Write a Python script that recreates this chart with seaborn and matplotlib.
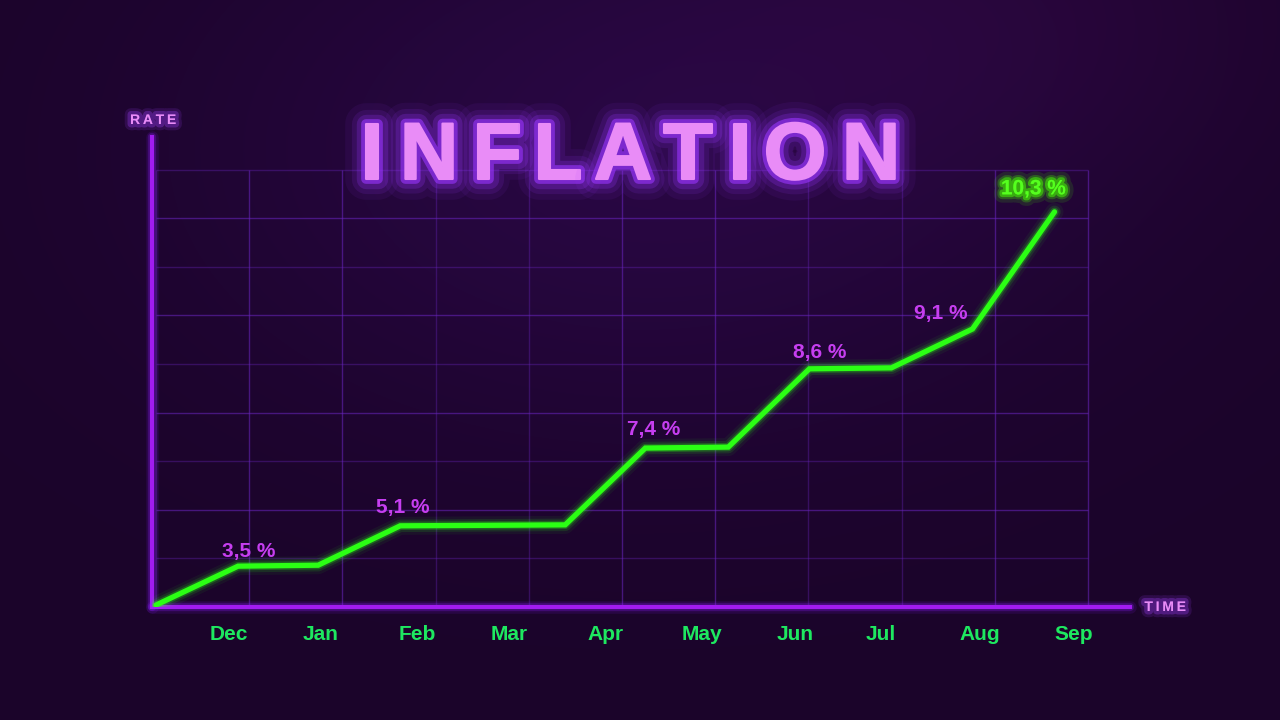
import matplotlib
matplotlib.use('Agg')
import numpy as np
import pandas as pd
import matplotlib.pyplot as plt
import matplotlib.patheffects as pe
import seaborn as sns

# chart values (x = grid columns along time axis, y = grid rows of height)
time_pos = [0.0, 0.88, 1.74, 2.62, 4.39, 5.25, 6.14, 7.01, 7.89, 8.76, 9.64]
level = [0.04, 0.84, 0.86, 1.67, 1.69, 3.27, 3.29, 4.90, 4.92, 5.72, 8.13]
months = ['Dec', 'Jan', 'Feb', 'Mar', 'Apr', 'May', 'Jun', 'Jul', 'Aug', 'Sep']
month_pos = [0.78, 1.77, 2.80, 3.79, 4.82, 5.86, 6.86, 7.78, 8.84, 9.85]
rate_labels = ['3,5 %', '5,1 %', '7,4 %', '8,6 %', '9,1 %', '10,3 %']
rate_idx = [1, 3, 5, 7, 9, 10]
rate_offset = [(11, 15), (3, 18), (8, 19), (10, 16), (-32, 15), (-21, 23)]

df = pd.DataFrame({'time': time_pos, 'level': level})

sns.set_style('dark')
plt.rcParams['font.family'] = ['Liberation Sans', 'DejaVu Sans']

GREEN = '#2bff14'
PURPLE = '#a11cf0'
PINK = '#e98cf7'


def glow(color, widths=(14, 9, 5), alphas=(0.08, 0.15, 0.3), inner=None):
    fx = [pe.Stroke(linewidth=w, foreground=color, alpha=a, joinstyle='round', capstyle='round')
          for w, a in zip(widths, alphas)]
    if inner is not None:
        fx.append(pe.Stroke(linewidth=inner[1], foreground=inner[0], joinstyle='round', capstyle='round'))
    return fx + [pe.Normal()]


fig = plt.figure(figsize=(12.8, 7.2), dpi=100)
fig.set_facecolor('#1a042a')

# background glow
bg = fig.add_axes([0, 0, 1, 1], zorder=0)
yy, xx = np.mgrid[0:720, 0:1280]
g = np.exp(-(((xx - 640) / 450.0) ** 2 + ((yy - 150) / 280.0) ** 2))
g2 = np.exp(-(((xx - 1000) / 300.0) ** 2 + ((yy - 0) / 180.0) ** 2))
base = np.array([27, 4, 42]) / 255.0
hi = np.array([40, 7, 66]) / 255.0
hi2 = np.array([44, 6, 60]) / 255.0
img = base + g[..., None] * (hi - base) + g2[..., None] * (hi2 - base) * 0.5
bg.imshow(np.clip(img, 0, 1), aspect='auto', extent=[0, 1280, 720, 0])
bg.set_axis_off()

ax = fig.add_axes([152 / 1280, 113 / 720, (1130 - 152) / 1280, (607 - 137) / 720], zorder=1)
ax.set_facecolor('none')
ax.set_xlim(-0.043, 10.45)
ax.set_ylim(0, 9.67)

# grid
for i in range(0, 11):
    ax.vlines(i, 0, 9, color='#6a25c0', lw=1, alpha=0.55 if i % 4 in (1, 2) else 0.35, zorder=1)
for j in range(1, 10):
    ax.hlines(j, 0, 10, color='#6a25c0', lw=1, alpha=0.55 if j % 2 == 0 else 0.35, zorder=1)

sns.lineplot(data=df, x='time', y='level', ax=ax, color=GREEN, lw=3.8, sort=False, zorder=3)
ax.lines[-1].set_path_effects(glow(GREEN, widths=(13, 9, 6), alphas=(0.06, 0.12, 0.25)))
ax.lines[-1].set_solid_joinstyle('miter')

for lab, i, off in zip(rate_labels, rate_idx, rate_offset):
    last = lab == rate_labels[-1]
    col = '#55ff1f' if last else '#c63ef0'
    t = ax.annotate(lab, (time_pos[i], level[i]), xytext=off, textcoords='offset pixels',
                    ha='center', va='center', fontsize=15, fontweight='bold', color=col, zorder=4)
    if last:
        t.set_path_effects(glow('#44ff00', widths=(12, 7, 4), alphas=(0.12, 0.25, 0.5)))

# axes lines
for s in ['top', 'right']:
    ax.spines[s].set_visible(False)
for s in ['left', 'bottom']:
    ax.spines[s].set_color(PURPLE)
    ax.spines[s].set_linewidth(3)
    ax.spines[s].set_path_effects(glow('#8a1cff', widths=(9, 6), alphas=(0.12, 0.25)))

ax.set_xticks(month_pos, months)
ax.set_yticks([])
ax.tick_params(axis='x', length=0, pad=13, labelsize=15, labelcolor='#1ee860')
for t in ax.get_xticklabels():
    t.set_fontweight('bold')
ax.set_xlabel('')
ax.set_ylabel('')

# title letters
letters = 'INFLATION'
centers = [372, 429, 497, 558, 623, 688, 740, 795, 871]
for ch, cx in zip(letters, centers):
    t = fig.text(cx / 1280, 1 - 158 / 720, ch, ha='center', va='center', fontsize=58,
                 fontweight='bold', color=PINK, zorder=5)
    t.set_path_effects(glow('#9a35ff', widths=(30, 21, 14, 7), alphas=(0.07, 0.12, 0.22, 0.6),
                            inner=(PINK, 1.5)))

for txt, x, y in [('RATE', 153, 120), ('TIME', 1165, 607)]:
    t = fig.text(x / 1280, 1 - y / 720, '\u2009'.join(txt), ha='center', va='center', fontsize=10,
                 fontweight='bold', color=PINK, zorder=5)
    t.set_path_effects(glow('#a040ff', widths=(9, 5), alphas=(0.15, 0.3)))

plt.savefig('out.png', dpi=100, facecolor=fig.get_facecolor())
plt.close()
